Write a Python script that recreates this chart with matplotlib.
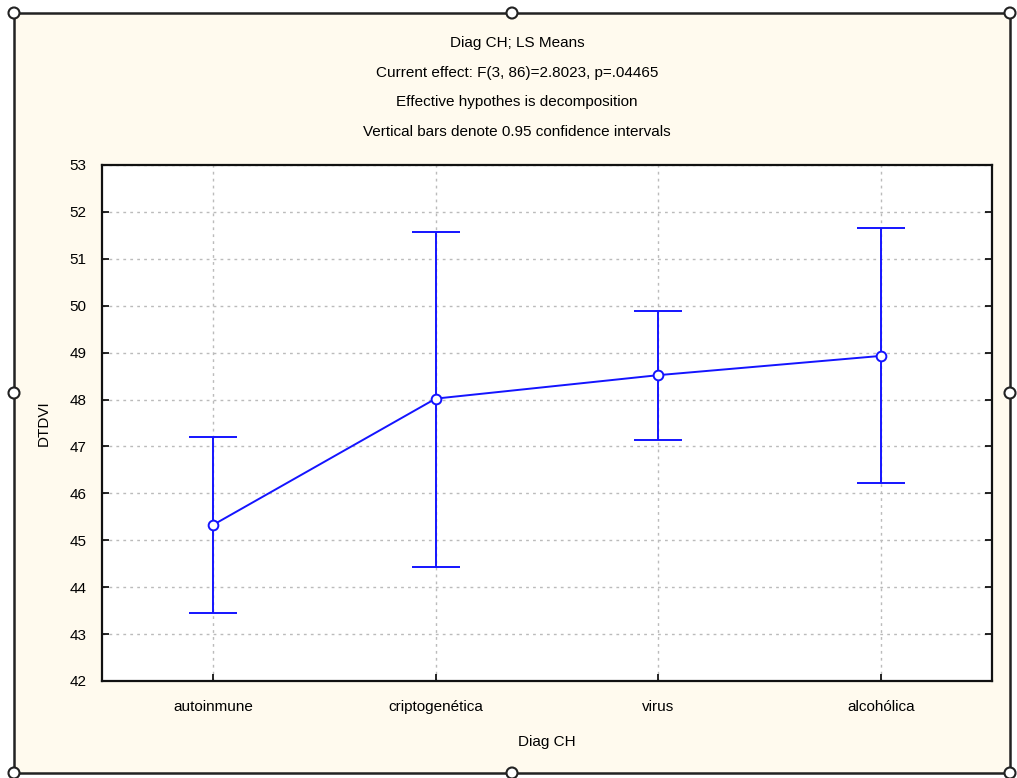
import matplotlib
matplotlib.use("Agg")
import matplotlib.pyplot as plt
from matplotlib.patches import Rectangle, Ellipse

categories = ["autoinmune", "criptogenética", "virus", "alcohólica"]
means = [45.33, 48.02, 48.52, 48.93]
ci_low = [43.45, 44.43, 47.14, 46.22]
ci_high = [47.20, 51.57, 49.89, 51.66]
title_lines = [
    "Diag CH; LS Means",
    "Current effect: F(3, 86)=2.8023, p=.04465",
    "Effective hypothes is decomposition",
    "Vertical bars denote 0.95 confidence intervals",
]
yticks = list(range(42, 54))

plt.rcParams['font.family'] = ['Liberation Sans', 'DejaVu Sans']

W, H = 1017, 778
fig = plt.figure(figsize=(W / 100, H / 100), dpi=100, facecolor="white")

# beige frame
fx0, fy0, fx1, fy1 = 14, 13, 1010, 773
fig.patches.append(Rectangle((fx0 / W, 1 - fy1 / H), (fx1 - fx0) / W, (fy1 - fy0) / H,
                             transform=fig.transFigure, facecolor="#FFFAEE",
                             edgecolor="#222222", linewidth=1.8, zorder=-5))

ax = fig.add_axes([102 / W, 1 - 681 / H, (992 - 102) / W, (681 - 165) / H])
ax.set_zorder(2)
ax.set_facecolor("white")
x = list(range(len(categories)))
yerr = [[m - l for m, l in zip(means, ci_low)], [h - m for m, h in zip(means, ci_high)]]
ax.errorbar(x, means, yerr=yerr, color="#1414FF", lw=1.4, capsize=17, capthick=1.4,
            marker="o", markersize=7, markerfacecolor="white", markeredgecolor="#1414FF",
            markeredgewidth=1.4, zorder=3)
ax.set_xlim(-0.5, 3.5)
ax.set_ylim(42, 53)
ax.set_yticks(yticks)
ax.set_xticks(x)
ax.set_xticklabels(categories, fontsize=11)
ax.tick_params(axis="y", direction="in", left=True, right=True, labelsize=11, length=5, width=1.2, pad=11)
ax.tick_params(axis="x", direction="in", bottom=True, top=False, labelsize=11, length=5, width=1.2, pad=14)
ax.grid(True, color="#BBBBBB", linestyle=(0, (2, 3)), linewidth=1)
for s in ax.spines.values():
    s.set_linewidth(1.6)
    s.set_color("#111111")
ax.set_xlabel("Diag CH", fontsize=11, labelpad=15)
ax.set_ylabel("DTDVI", fontsize=11, labelpad=14)

for i, t in enumerate(title_lines):
    fig.text(517 / W, 1 - (43 + 29.7 * i) / H, t, ha="center", va="center", fontsize=11)

# selection handles
for hx in (fx0, (fx0 + fx1) / 2, fx1):
    for hy in (fy0, (fy0 + fy1) / 2, fy1):
        if hx == (fx0 + fx1) / 2 and hy == (fy0 + fy1) / 2:
            continue
        fig.patches.append(Ellipse((hx / W, 1 - hy / H), 11 / W, 11 / H, transform=fig.transFigure,
                                   facecolor="white", edgecolor="#222222", linewidth=1.5, zorder=5))

fig.savefig("out.png", dpi=100, facecolor="white")
